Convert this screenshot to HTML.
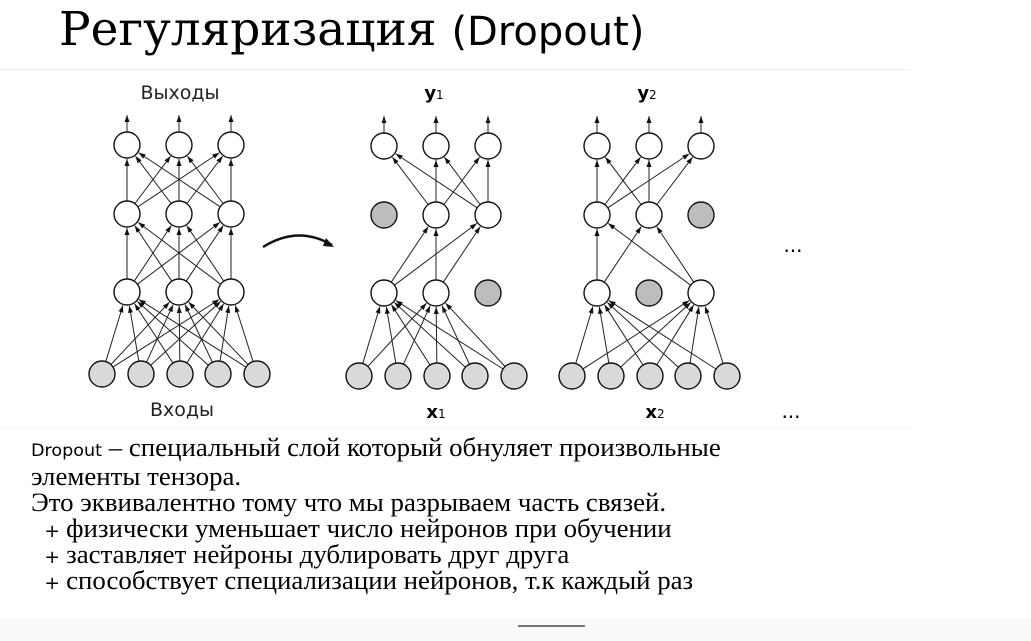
<!DOCTYPE html>
<html><head><meta charset="utf-8"><style>
body{margin:0;width:1031px;height:641px;background:#fff;position:relative;overflow:hidden}
.t{position:absolute;left:59px;top:0px;font-size:47px;font-family:"DejaVu Serif","Liberation Serif",serif;white-space:nowrap;line-height:60px}
.t span{font-family:"DejaVu Sans","Liberation Sans",sans-serif;font-size:40px}
.txt{position:absolute;left:31px;top:435px;font-family:"Liberation Serif","DejaVu Serif",serif;font-size:26px;line-height:26px;white-space:nowrap;transform:scaleX(1.033);transform-origin:0 0}
.txt .s{font-family:"DejaVu Sans","Liberation Sans",sans-serif;font-size:17px}
.li{padding-left:13px;line-height:26px;height:26px}
.li b{font-weight:normal;font-size:18px;display:inline-block;width:21px;font-family:"DejaVu Sans",sans-serif}
</style></head><body>
<div class="t">Регуляризация <span>(Dropout)</span></div>
<div style="position:absolute;left:0;top:69px;width:910px;height:1px;background:#f0f0f0"></div>
<div style="position:absolute;left:0;top:427px;width:910px;height:1px;background:#f4f4f4"></div>
<svg id="s" width="1031" height="641" style="position:absolute;left:0;top:0" font-family="DejaVu Sans, Liberation Sans, sans-serif">
<defs><marker id="a" markerWidth="8" markerHeight="8" refX="7" refY="4" orient="auto" markerUnits="userSpaceOnUse"><path d="M0,1.5 L7,4 L0,6.5z" fill="#111"/></marker></defs>
<g id="e" stroke="#222" stroke-width="1" marker-end="url(#a)"></g>
<g id="n" stroke="#111" stroke-width="1.4"></g>
<text x="180" y="99" font-size="19" text-anchor="middle" fill="#222">Выходы</text>
<text x="182" y="416" font-size="19" text-anchor="middle" fill="#222">Входы</text>
<text x="434" y="99" font-size="18" font-weight="bold" text-anchor="middle">y<tspan font-size="12" font-weight="normal">1</tspan></text>
<text x="647" y="99" font-size="18" font-weight="bold" text-anchor="middle">y<tspan font-size="12" font-weight="normal">2</tspan></text>
<text x="436" y="418" font-size="18" font-weight="bold" text-anchor="middle">x<tspan font-size="12" font-weight="normal">1</tspan></text>
<text x="655" y="418" font-size="18" font-weight="bold" text-anchor="middle">x<tspan font-size="12" font-weight="normal">2</tspan></text>
<text x="793" y="252" font-size="20" text-anchor="middle">...</text>
<text x="791" y="418" font-size="20" text-anchor="middle">...</text>
<path d="M263,247 Q298,225 332,245" fill="none" stroke="#111" stroke-width="2.5"/>
<path d="M326,238 L334,247 L323,246z" fill="#111"/>
</svg>
<div class="txt"><span class="s">Dropout</span> – специальный слой который обнуляет произвольные<br>элементы тензора.<br>Это эквивалентно тому что мы разрываем часть связей.<br><div class="li"><b>+</b>физически уменьшает число нейронов при обучении</div><div class="li"><b>+</b>заставляет нейроны дублировать друг друга</div><div class="li"><b>+</b>способствует специализации нейронов, т.к каждый раз</div></div>
<div style="position:absolute;left:0;top:619px;width:1031px;height:22px;background:#f8f9fb"></div>
<div style="position:absolute;left:518px;top:625px;width:67px;height:2px;background:#777"></div>
<script>
var E=document.getElementById('e'),N=document.getElementById('n'),ns='http://www.w3.org/2000/svg',R=13;
function ln(x1,y1,x2,y2){var dx=x2-x1,dy=y2-y1,d=Math.hypot(dx,dy);var l=document.createElementNS(ns,'line');
l.setAttribute('x1',x1+dx/d*R);l.setAttribute('y1',y1+dy/d*R);l.setAttribute('x2',x2-dx/d*(R+1));l.setAttribute('y2',y2-dy/d*(R+1));E.appendChild(l);}
function c(x,y,f){var e=document.createElementNS(ns,'circle');e.setAttribute('cx',x);e.setAttribute('cy',y);e.setAttribute('r',R);e.setAttribute('fill',f);N.appendChild(e);}
function net(hx,ix,yo,yh2,yh1,yi,a1,a2){
 var o=hx.map(x=>[x,yo]),h2=hx.map(x=>[x,yh2]),h1=hx.map(x=>[x,yh1]),inp=ix.map(x=>[x,yi]);
 inp.forEach(p=>h1.forEach((q,j)=>{if(a1[j])ln(p[0],p[1],q[0],q[1])}));
 h1.forEach((p,i)=>{if(a1[i])h2.forEach((q,j)=>{if(a2[j])ln(p[0],p[1],q[0],q[1])})});
 h2.forEach((p,i)=>{if(a2[i])o.forEach(q=>ln(p[0],p[1],q[0],q[1]))});
 o.forEach(p=>{var l=document.createElementNS(ns,'line');l.setAttribute('x1',p[0]);l.setAttribute('y1',p[1]-R);l.setAttribute('x2',p[0]);l.setAttribute('y2',p[1]-30);E.appendChild(l);});
 o.forEach(p=>c(p[0],p[1],'#fff'));
 h2.forEach((p,i)=>c(p[0],p[1],a2[i]?'#fff':'#bdbdbd'));
 h1.forEach((p,i)=>c(p[0],p[1],a1[i]?'#fff':'#bdbdbd'));
 inp.forEach(p=>c(p[0],p[1],'#d9d9d9'));
}
net([127,179,231],[102,141,180,218,257],145,214,292,374,[1,1,1],[1,1,1]);
net([384,436,488],[359,398,437,475,514],146,215,293,376,[1,1,0],[0,1,1]);
net([597,649,701],[572,611,650,688,727],146,215,293,376,[1,0,1],[1,1,0]);
</script>
</body></html>
